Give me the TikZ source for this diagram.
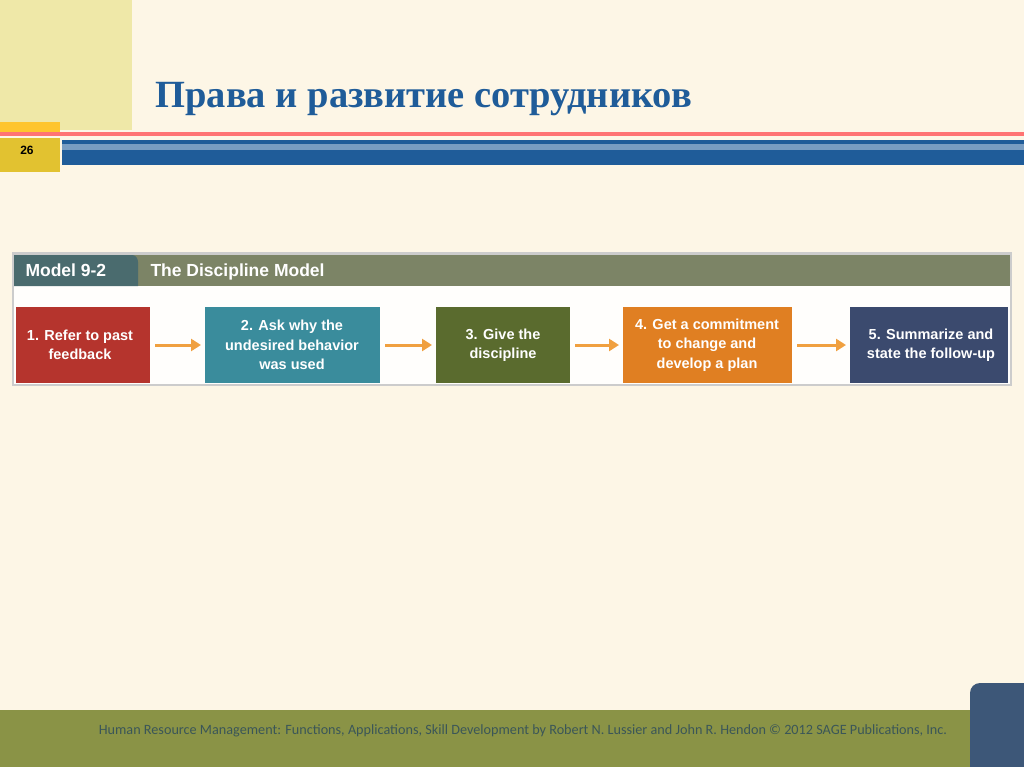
\documentclass[tikz,border=0pt]{standalone}
\usepackage{fontspec}
\setmainfont{Liberation Sans}
\newfontfamily\titlefont{Liberation Serif}
\newfontfamily\footfont{Carlito}
\usetikzlibrary{arrows.meta}
\definecolor{cream}{HTML}{FDF6E6}
\definecolor{titleblue}{HTML}{1F5C99}
\definecolor{footolive}{HTML}{8A9346}
\definecolor{tabblue}{HTML}{3D5778}
\definecolor{hdrdark}{HTML}{4A6B6E}
\definecolor{hdrolive}{HTML}{7C8466}
\definecolor{cred}{HTML}{B5342D}
\definecolor{cteal}{HTML}{3A8C9C}
\definecolor{colive}{HTML}{5A6B2E}
\definecolor{corange}{HTML}{E07F22}
\definecolor{cnavy}{HTML}{3B4A6E}
\definecolor{carrow}{HTML}{F0A040}
\definecolor{paper}{HTML}{EFE8A8}
\definecolor{gold}{HTML}{E2C230}
\tikzset{
  stepbox/.style={text=white,align=center,font=\bfseries\fontsize{14.5}{19.5}\selectfont},
  hdr/.style={anchor=base west,text=white,font=\bfseries\fontsize{17.5}{20}\selectfont},
  flow/.style={draw=carrow,line width=3pt,-{Triangle[length=10pt,width=12pt]},shorten <=5pt,shorten >=4pt}
}
\begin{document}
\begin{tikzpicture}[x=1pt,y=-1pt]
\useasboundingbox (0,0) rectangle (1024,767);
\fill[cream] (0,0) rectangle (1024,767);
% top-left image
\fill[paper] (0,0) rectangle (132,130);
\fill[orange!55!yellow!80!cream] (0,122) rectangle (60,136);
% title
\node[anchor=west,text=titleblue,font=\titlefont\bfseries\fontsize{38.5}{44}\selectfont] (title) at (152,99) {Права и развитие сотрудников};
% lines
\fill[red!55!white] (0,132) rectangle (1024,136);
\fill[titleblue] (62,140) rectangle (1024,165);
\fill[titleblue!60!white] (62,144) rectangle (1024,150);
\fill[gold] (0,138) rectangle (60,172);
\node[font=\bfseries\fontsize{12}{14}\selectfont] (num) at (27,150) {26};
% diagram frame
\fill[gray!40] (12,252) rectangle (1012,386);
\fill[white!90!cream] (14,255) rectangle (1010,384);
\fill[hdrolive] (14,255) rectangle (1010,286);
\fill[hdrdark] (14,255) -- (132,255) to[out=0,in=90] (138,262) -- (138,286) -- (14,286) -- cycle;
\node[hdr] (m) at (22,276) {Model 9-2};
\node[hdr] (t) at (147,276) {The Discipline Model};
% boxes
\fill[cred] (16,307) rectangle (150,383);
\node[stepbox] (b1) at (80,345) {1. Refer to past\\feedback};
\fill[cteal] (205,307) rectangle (380,383);
\node[stepbox] (b2) at (292,345) {2. Ask why the\\undesired behavior\\was used};
\fill[colive] (436,307) rectangle (570,383);
\node[stepbox] (b3) at (503,345) {3. Give the\\discipline};
\fill[corange] (623,307) rectangle (792,383);
\node[stepbox] (b4) at (707,345) {4. Get a commitment\\to change and\\develop a plan};
\fill[cnavy] (850,307) rectangle (1008,383);
\node[stepbox] (b5) at (931,345) {5. Summarize and\\state the follow-up};
\coordinate (a1) at (150,345); \coordinate (a2) at (205,345);
\coordinate (a3) at (380,345); \coordinate (a4) at (436,345);
\coordinate (a5) at (570,345); \coordinate (a6) at (623,345);
\coordinate (a7) at (792,345); \coordinate (a8) at (850,345);
\draw[flow] (a1) -- (a2);
\draw[flow] (a3) -- (a4);
\draw[flow] (a5) -- (a6);
\draw[flow] (a7) -- (a8);
% footer
\fill[footolive] (0,710) rectangle (1024,767);
\fill[tabblue,rounded corners=10pt] (970,683) rectangle (1034,777);
\node[text=hdrdark!80!black,font=\footfont\fontsize{14.2}{16}\selectfont] (foot) at (523,731) {Human Resource Management: Functions, Applications, Skill Development by Robert N. Lussier and John R. Hendon © 2012 SAGE Publications, Inc.};
\end{tikzpicture}
\end{document}
